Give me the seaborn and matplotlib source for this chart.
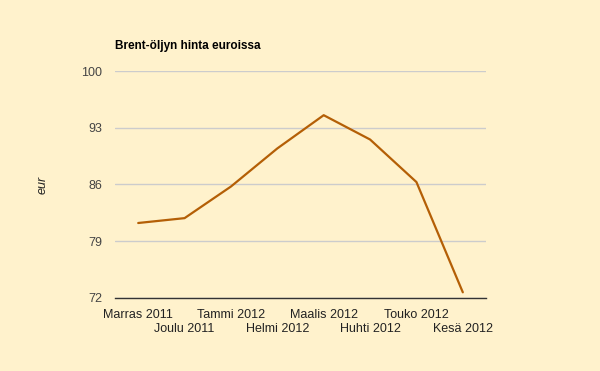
import pandas as pd
import seaborn as sns
import matplotlib.pyplot as plt

# Monthly Brent price in euros
months = ["Marras 2011", "Joulu 2011", "Tammi 2012", "Helmi 2012",
          "Maalis 2012", "Huhti 2012", "Touko 2012", "Kesä 2012"]
prices = [81.25, 81.85, 85.75, 90.45, 94.55, 91.55, 86.3, 72.7]
yticks = [72, 79, 86, 93, 100]

df = pd.DataFrame({"pos": range(len(months)), "price": prices})

bg = "#FFF2CC"
sns.set_style("white")
plt.rcParams["font.family"] = ["Liberation Sans", "DejaVu Sans"]

fig = plt.figure(figsize=(6, 3.71), dpi=100, facecolor=bg)
ax = fig.add_axes([0.1917, 0.1968, 0.6183, 0.6118])
ax.set_facecolor(bg)

sns.lineplot(data=df, x="pos", y="price", color="#B45F06", linewidth=1.6, ax=ax, zorder=3)

ax.set_xlim(-0.5, len(months) - 0.5)
ax.set_ylim(72, 100)
ax.set_yticks(yticks)
ax.set_yticklabels([str(t) for t in yticks], fontsize=9, color="#444444")
ax.set_xticks(range(len(months)))
ax.set_xticklabels(months, fontsize=9, color="#222222")
ax.tick_params(axis="y", length=0, pad=9)
ax.tick_params(axis="x", length=0, pad=8)
# stagger every second label onto a lower row
for i, tick in enumerate(ax.xaxis.get_major_ticks()):
    if i % 2 == 1:
        tick.set_pad(18)

ax.grid(axis="y", color="#CCCCCC", linewidth=1)
ax.set_axisbelow(True)
for s in ["left", "right", "top"]:
    ax.spines[s].set_visible(False)
ax.spines["bottom"].set_color("#333333")
ax.spines["bottom"].set_linewidth(1)

ax.set_xlabel("")
ax.set_ylabel("eur", fontsize=9, style="italic", color="#222222", labelpad=24)

fig.text(115 / 600, 1 - 46 / 371, "Brent-öljyn hinta euroissa", fontsize=8.5,
         fontweight="bold", color="black", va="center", ha="left")

plt.savefig("out.png", dpi=100, facecolor=bg)
